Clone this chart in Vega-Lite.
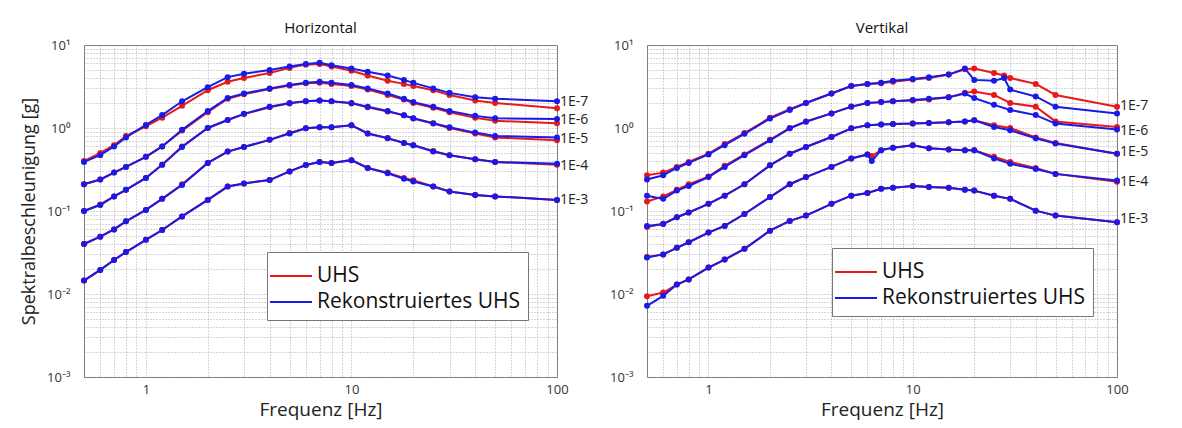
{
"$schema": "https://vega.github.io/schema/vega-lite/v6.json",
"background": "white",
"padding": {"left": 20, "top": 20, "right": 5, "bottom": 0},
"spacing": 20,
"config": {
  "font": "Open Sans",
  "view": {"stroke": "#777", "strokeWidth": 1},
  "title": {"fontSize": 15, "fontWeight": "normal", "color": "#111", "offset": 3},
  "axis": {"domain": false, "ticks": false, "grid": true, "gridColor": "#999", "gridDash": [1, 2], "gridOpacity": 0.8,
           "labelColor": "#333", "labelFontSize": 13, "titleFontSize": 18, "titleFontWeight": "normal", "titleColor": "#222",
           "labelOverlap": false, "labelFlush": false}
},
"resolve": {"scale": {"color": "independent"}, "legend": {"color": "independent"}},
"datasets": {
"labels": [
{"p":"H","label":"1E-7","f":100,"v":2.05},{"p":"H","label":"1E-6","f":100,"v":1.25},{"p":"H","label":"1E-5","f":100,"v":0.74},{"p":"H","label":"1E-4","f":100,"v":0.35},{"p":"H","label":"1E-3","f":100,"v":0.136},
{"p":"V","label":"1E-7","f":100,"v":1.82},{"p":"V","label":"1E-6","f":100,"v":0.93},{"p":"V","label":"1E-5","f":100,"v":0.52},{"p":"V","label":"1E-4","f":100,"v":0.225},{"p":"V","label":"1E-3","f":100,"v":0.08}
],
"curves": [
{"p":"H","rp":"1E-7","f":0.5,"uhs":0.40,"rek":0.39},{"p":"H","rp":"1E-7","f":0.6,"uhs":0.50,"rek":0.47},{"p":"H","rp":"1E-7","f":0.7,"uhs":0.62,"rek":0.60},{"p":"H","rp":"1E-7","f":0.8,"uhs":0.80,"rek":0.77},{"p":"H","rp":"1E-7","f":1,"uhs":1.05,"rek":1.09},{"p":"H","rp":"1E-7","f":1.2,"uhs":1.33,"rek":1.43},{"p":"H","rp":"1E-7","f":1.5,"uhs":1.85,"rek":2.1},{"p":"H","rp":"1E-7","f":2,"uhs":2.85,"rek":3.1},{"p":"H","rp":"1E-7","f":2.5,"uhs":3.6,"rek":4.1},{"p":"H","rp":"1E-7","f":3,"uhs":4.0,"rek":4.5},{"p":"H","rp":"1E-7","f":4,"uhs":4.6,"rek":5.0},{"p":"H","rp":"1E-7","f":5,"uhs":5.3,"rek":5.5},{"p":"H","rp":"1E-7","f":6,"uhs":5.8,"rek":5.9},{"p":"H","rp":"1E-7","f":7,"uhs":5.9,"rek":6.1},{"p":"H","rp":"1E-7","f":8,"uhs":5.5,"rek":5.7},{"p":"H","rp":"1E-7","f":10,"uhs":4.9,"rek":5.2},{"p":"H","rp":"1E-7","f":12,"uhs":4.3,"rek":4.75},{"p":"H","rp":"1E-7","f":15,"uhs":3.7,"rek":4.3},{"p":"H","rp":"1E-7","f":18,"uhs":3.4,"rek":3.8},{"p":"H","rp":"1E-7","f":20,"uhs":3.2,"rek":3.5},{"p":"H","rp":"1E-7","f":25,"uhs":2.85,"rek":3.0},{"p":"H","rp":"1E-7","f":30,"uhs":2.5,"rek":2.65},{"p":"H","rp":"1E-7","f":40,"uhs":2.15,"rek":2.35},{"p":"H","rp":"1E-7","f":50,"uhs":2.0,"rek":2.25},{"p":"H","rp":"1E-7","f":100,"uhs":1.73,"rek":2.1},
{"p":"H","rp":"1E-6","f":0.5,"uhs":0.21,"rek":0.21},{"p":"H","rp":"1E-6","f":0.6,"uhs":0.24,"rek":0.24},{"p":"H","rp":"1E-6","f":0.7,"uhs":0.29,"rek":0.29},{"p":"H","rp":"1E-6","f":0.8,"uhs":0.34,"rek":0.34},{"p":"H","rp":"1E-6","f":1,"uhs":0.45,"rek":0.45},{"p":"H","rp":"1E-6","f":1.2,"uhs":0.60,"rek":0.60},{"p":"H","rp":"1E-6","f":1.5,"uhs":0.93,"rek":0.95},{"p":"H","rp":"1E-6","f":2,"uhs":1.55,"rek":1.6},{"p":"H","rp":"1E-6","f":2.5,"uhs":2.25,"rek":2.3},{"p":"H","rp":"1E-6","f":3,"uhs":2.55,"rek":2.6},{"p":"H","rp":"1E-6","f":4,"uhs":2.95,"rek":3.0},{"p":"H","rp":"1E-6","f":5,"uhs":3.25,"rek":3.3},{"p":"H","rp":"1E-6","f":6,"uhs":3.45,"rek":3.5},{"p":"H","rp":"1E-6","f":7,"uhs":3.5,"rek":3.6},{"p":"H","rp":"1E-6","f":8,"uhs":3.4,"rek":3.5},{"p":"H","rp":"1E-6","f":10,"uhs":3.2,"rek":3.3},{"p":"H","rp":"1E-6","f":12,"uhs":2.9,"rek":3.0},{"p":"H","rp":"1E-6","f":15,"uhs":2.5,"rek":2.6},{"p":"H","rp":"1E-6","f":18,"uhs":2.2,"rek":2.25},{"p":"H","rp":"1E-6","f":20,"uhs":2.0,"rek":2.05},{"p":"H","rp":"1E-6","f":25,"uhs":1.75,"rek":1.8},{"p":"H","rp":"1E-6","f":30,"uhs":1.55,"rek":1.6},{"p":"H","rp":"1E-6","f":40,"uhs":1.33,"rek":1.4},{"p":"H","rp":"1E-6","f":50,"uhs":1.22,"rek":1.31},{"p":"H","rp":"1E-6","f":100,"uhs":1.14,"rek":1.28},
{"p":"H","rp":"1E-5","f":0.5,"uhs":0.10,"rek":0.10},{"p":"H","rp":"1E-5","f":0.6,"uhs":0.12,"rek":0.118},{"p":"H","rp":"1E-5","f":0.7,"uhs":0.15,"rek":0.15},{"p":"H","rp":"1E-5","f":0.8,"uhs":0.18,"rek":0.18},{"p":"H","rp":"1E-5","f":1,"uhs":0.25,"rek":0.25},{"p":"H","rp":"1E-5","f":1.2,"uhs":0.36,"rek":0.36},{"p":"H","rp":"1E-5","f":1.5,"uhs":0.6,"rek":0.59},{"p":"H","rp":"1E-5","f":2,"uhs":1.0,"rek":1.0},{"p":"H","rp":"1E-5","f":2.5,"uhs":1.25,"rek":1.25},{"p":"H","rp":"1E-5","f":3,"uhs":1.47,"rek":1.48},{"p":"H","rp":"1E-5","f":4,"uhs":1.78,"rek":1.8},{"p":"H","rp":"1E-5","f":5,"uhs":1.98,"rek":2.0},{"p":"H","rp":"1E-5","f":6,"uhs":2.1,"rek":2.1},{"p":"H","rp":"1E-5","f":7,"uhs":2.15,"rek":2.15},{"p":"H","rp":"1E-5","f":8,"uhs":2.1,"rek":2.1},{"p":"H","rp":"1E-5","f":10,"uhs":1.98,"rek":2.0},{"p":"H","rp":"1E-5","f":12,"uhs":1.78,"rek":1.8},{"p":"H","rp":"1E-5","f":15,"uhs":1.58,"rek":1.6},{"p":"H","rp":"1E-5","f":18,"uhs":1.42,"rek":1.42},{"p":"H","rp":"1E-5","f":20,"uhs":1.3,"rek":1.31},{"p":"H","rp":"1E-5","f":25,"uhs":1.13,"rek":1.14},{"p":"H","rp":"1E-5","f":30,"uhs":1.0,"rek":1.02},{"p":"H","rp":"1E-5","f":40,"uhs":0.86,"rek":0.88},{"p":"H","rp":"1E-5","f":50,"uhs":0.77,"rek":0.80},{"p":"H","rp":"1E-5","f":100,"uhs":0.71,"rek":0.77},
{"p":"H","rp":"1E-4","f":0.5,"uhs":0.040,"rek":0.040},{"p":"H","rp":"1E-4","f":0.6,"uhs":0.049,"rek":0.049},{"p":"H","rp":"1E-4","f":0.7,"uhs":0.060,"rek":0.060},{"p":"H","rp":"1E-4","f":0.8,"uhs":0.075,"rek":0.075},{"p":"H","rp":"1E-4","f":1,"uhs":0.103,"rek":0.103},{"p":"H","rp":"1E-4","f":1.2,"uhs":0.14,"rek":0.14},{"p":"H","rp":"1E-4","f":1.5,"uhs":0.21,"rek":0.206},{"p":"H","rp":"1E-4","f":2,"uhs":0.38,"rek":0.38},{"p":"H","rp":"1E-4","f":2.5,"uhs":0.52,"rek":0.52},{"p":"H","rp":"1E-4","f":3,"uhs":0.59,"rek":0.59},{"p":"H","rp":"1E-4","f":4,"uhs":0.72,"rek":0.72},{"p":"H","rp":"1E-4","f":5,"uhs":0.87,"rek":0.86},{"p":"H","rp":"1E-4","f":6,"uhs":0.99,"rek":0.99},{"p":"H","rp":"1E-4","f":7,"uhs":1.02,"rek":1.02},{"p":"H","rp":"1E-4","f":8,"uhs":1.02,"rek":1.02},{"p":"H","rp":"1E-4","f":10,"uhs":1.08,"rek":1.08},{"p":"H","rp":"1E-4","f":12,"uhs":0.86,"rek":0.86},{"p":"H","rp":"1E-4","f":15,"uhs":0.76,"rek":0.75},{"p":"H","rp":"1E-4","f":18,"uhs":0.66,"rek":0.66},{"p":"H","rp":"1E-4","f":20,"uhs":0.62,"rek":0.62},{"p":"H","rp":"1E-4","f":25,"uhs":0.53,"rek":0.52},{"p":"H","rp":"1E-4","f":30,"uhs":0.47,"rek":0.47},{"p":"H","rp":"1E-4","f":40,"uhs":0.42,"rek":0.42},{"p":"H","rp":"1E-4","f":50,"uhs":0.39,"rek":0.39},{"p":"H","rp":"1E-4","f":100,"uhs":0.36,"rek":0.37},
{"p":"H","rp":"1E-3","f":0.5,"uhs":0.0145,"rek":0.0145},{"p":"H","rp":"1E-3","f":0.6,"uhs":0.0195,"rek":0.0195},{"p":"H","rp":"1E-3","f":0.7,"uhs":0.0257,"rek":0.0257},{"p":"H","rp":"1E-3","f":0.8,"uhs":0.032,"rek":0.032},{"p":"H","rp":"1E-3","f":1,"uhs":0.045,"rek":0.045},{"p":"H","rp":"1E-3","f":1.2,"uhs":0.059,"rek":0.059},{"p":"H","rp":"1E-3","f":1.5,"uhs":0.086,"rek":0.086},{"p":"H","rp":"1E-3","f":2,"uhs":0.136,"rek":0.136},{"p":"H","rp":"1E-3","f":2.5,"uhs":0.197,"rek":0.197},{"p":"H","rp":"1E-3","f":3,"uhs":0.215,"rek":0.215},{"p":"H","rp":"1E-3","f":4,"uhs":0.236,"rek":0.236},{"p":"H","rp":"1E-3","f":5,"uhs":0.30,"rek":0.30},{"p":"H","rp":"1E-3","f":6,"uhs":0.358,"rek":0.358},{"p":"H","rp":"1E-3","f":7,"uhs":0.39,"rek":0.39},{"p":"H","rp":"1E-3","f":8,"uhs":0.38,"rek":0.38},{"p":"H","rp":"1E-3","f":10,"uhs":0.41,"rek":0.41},{"p":"H","rp":"1E-3","f":12,"uhs":0.33,"rek":0.33},{"p":"H","rp":"1E-3","f":15,"uhs":0.29,"rek":0.285},{"p":"H","rp":"1E-3","f":18,"uhs":0.25,"rek":0.245},{"p":"H","rp":"1E-3","f":20,"uhs":0.235,"rek":0.227},{"p":"H","rp":"1E-3","f":25,"uhs":0.197,"rek":0.197},{"p":"H","rp":"1E-3","f":30,"uhs":0.172,"rek":0.172},{"p":"H","rp":"1E-3","f":40,"uhs":0.156,"rek":0.156},{"p":"H","rp":"1E-3","f":50,"uhs":0.15,"rek":0.15},{"p":"H","rp":"1E-3","f":100,"uhs":0.136,"rek":0.136},
{"p":"V","rp":"1E-7","f":0.5,"uhs":0.27,"rek":0.24},{"p":"V","rp":"1E-7","f":0.6,"uhs":0.29,"rek":0.27},{"p":"V","rp":"1E-7","f":0.7,"uhs":0.34,"rek":0.33},{"p":"V","rp":"1E-7","f":0.8,"uhs":0.39,"rek":0.38},{"p":"V","rp":"1E-7","f":1,"uhs":0.49,"rek":0.48},{"p":"V","rp":"1E-7","f":1.2,"uhs":0.64,"rek":0.62},{"p":"V","rp":"1E-7","f":1.5,"uhs":0.87,"rek":0.85},{"p":"V","rp":"1E-7","f":2,"uhs":1.33,"rek":1.3},{"p":"V","rp":"1E-7","f":2.5,"uhs":1.68,"rek":1.65},{"p":"V","rp":"1E-7","f":3,"uhs":2.0,"rek":2.0},{"p":"V","rp":"1E-7","f":4,"uhs":2.6,"rek":2.6},{"p":"V","rp":"1E-7","f":5,"uhs":3.2,"rek":3.2},{"p":"V","rp":"1E-7","f":6,"uhs":3.4,"rek":3.4},{"p":"V","rp":"1E-7","f":7,"uhs":3.45,"rek":3.5},{"p":"V","rp":"1E-7","f":8,"uhs":3.6,"rek":3.7},{"p":"V","rp":"1E-7","f":10,"uhs":3.85,"rek":3.9},{"p":"V","rp":"1E-7","f":12,"uhs":4.0,"rek":4.1},{"p":"V","rp":"1E-7","f":15,"uhs":4.4,"rek":4.4},{"p":"V","rp":"1E-7","f":18,"uhs":5.1,"rek":5.2},{"p":"V","rp":"1E-7","f":20,"uhs":5.2,"rek":3.8},{"p":"V","rp":"1E-7","f":25,"uhs":4.6,"rek":3.7},{"p":"V","rp":"1E-7","f":28,"uhs":4.3,"rek":4.0},{"p":"V","rp":"1E-7","f":30,"uhs":4.0,"rek":2.9},{"p":"V","rp":"1E-7","f":40,"uhs":3.4,"rek":2.4},{"p":"V","rp":"1E-7","f":50,"uhs":2.5,"rek":1.8},{"p":"V","rp":"1E-7","f":100,"uhs":1.8,"rek":1.5},
{"p":"V","rp":"1E-6","f":0.5,"uhs":0.13,"rek":0.153},{"p":"V","rp":"1E-6","f":0.6,"uhs":0.15,"rek":0.14},{"p":"V","rp":"1E-6","f":0.7,"uhs":0.18,"rek":0.176},{"p":"V","rp":"1E-6","f":0.8,"uhs":0.21,"rek":0.20},{"p":"V","rp":"1E-6","f":1,"uhs":0.26,"rek":0.256},{"p":"V","rp":"1E-6","f":1.2,"uhs":0.35,"rek":0.34},{"p":"V","rp":"1E-6","f":1.5,"uhs":0.48,"rek":0.47},{"p":"V","rp":"1E-6","f":2,"uhs":0.72,"rek":0.71},{"p":"V","rp":"1E-6","f":2.5,"uhs":1.0,"rek":0.99},{"p":"V","rp":"1E-6","f":3,"uhs":1.2,"rek":1.19},{"p":"V","rp":"1E-6","f":4,"uhs":1.5,"rek":1.5},{"p":"V","rp":"1E-6","f":5,"uhs":1.8,"rek":1.81},{"p":"V","rp":"1E-6","f":6,"uhs":2.0,"rek":2.0},{"p":"V","rp":"1E-6","f":7,"uhs":2.05,"rek":2.05},{"p":"V","rp":"1E-6","f":8,"uhs":2.1,"rek":2.1},{"p":"V","rp":"1E-6","f":10,"uhs":2.15,"rek":2.17},{"p":"V","rp":"1E-6","f":12,"uhs":2.2,"rek":2.25},{"p":"V","rp":"1E-6","f":15,"uhs":2.35,"rek":2.34},{"p":"V","rp":"1E-6","f":18,"uhs":2.65,"rek":2.6},{"p":"V","rp":"1E-6","f":20,"uhs":2.75,"rek":2.3},{"p":"V","rp":"1E-6","f":25,"uhs":2.5,"rek":1.9},{"p":"V","rp":"1E-6","f":30,"uhs":2.0,"rek":1.65},{"p":"V","rp":"1E-6","f":40,"uhs":1.8,"rek":1.43},{"p":"V","rp":"1E-6","f":50,"uhs":1.2,"rek":1.13},{"p":"V","rp":"1E-6","f":100,"uhs":1.03,"rek":0.96},
{"p":"V","rp":"1E-5","f":0.5,"uhs":0.064,"rek":0.066},{"p":"V","rp":"1E-5","f":0.6,"uhs":0.07,"rek":0.0695},{"p":"V","rp":"1E-5","f":0.7,"uhs":0.084,"rek":0.084},{"p":"V","rp":"1E-5","f":0.8,"uhs":0.096,"rek":0.096},{"p":"V","rp":"1E-5","f":1,"uhs":0.122,"rek":0.122},{"p":"V","rp":"1E-5","f":1.2,"uhs":0.153,"rek":0.153},{"p":"V","rp":"1E-5","f":1.5,"uhs":0.21,"rek":0.21},{"p":"V","rp":"1E-5","f":2,"uhs":0.355,"rek":0.355},{"p":"V","rp":"1E-5","f":2.5,"uhs":0.49,"rek":0.49},{"p":"V","rp":"1E-5","f":3,"uhs":0.59,"rek":0.59},{"p":"V","rp":"1E-5","f":4,"uhs":0.78,"rek":0.78},{"p":"V","rp":"1E-5","f":5,"uhs":0.99,"rek":0.99},{"p":"V","rp":"1E-5","f":6,"uhs":1.08,"rek":1.08},{"p":"V","rp":"1E-5","f":7,"uhs":1.1,"rek":1.1},{"p":"V","rp":"1E-5","f":8,"uhs":1.12,"rek":1.12},{"p":"V","rp":"1E-5","f":10,"uhs":1.13,"rek":1.13},{"p":"V","rp":"1E-5","f":12,"uhs":1.15,"rek":1.15},{"p":"V","rp":"1E-5","f":15,"uhs":1.17,"rek":1.17},{"p":"V","rp":"1E-5","f":18,"uhs":1.2,"rek":1.2},{"p":"V","rp":"1E-5","f":20,"uhs":1.24,"rek":1.24},{"p":"V","rp":"1E-5","f":25,"uhs":1.08,"rek":1.03},{"p":"V","rp":"1E-5","f":30,"uhs":1.0,"rek":0.94},{"p":"V","rp":"1E-5","f":40,"uhs":0.77,"rek":0.75},{"p":"V","rp":"1E-5","f":50,"uhs":0.66,"rek":0.65},{"p":"V","rp":"1E-5","f":100,"uhs":0.49,"rek":0.49},
{"p":"V","rp":"1E-4","f":0.5,"uhs":0.028,"rek":0.0275},{"p":"V","rp":"1E-4","f":0.6,"uhs":0.030,"rek":0.030},{"p":"V","rp":"1E-4","f":0.7,"uhs":0.036,"rek":0.036},{"p":"V","rp":"1E-4","f":0.8,"uhs":0.042,"rek":0.042},{"p":"V","rp":"1E-4","f":1,"uhs":0.055,"rek":0.055},{"p":"V","rp":"1E-4","f":1.2,"uhs":0.066,"rek":0.066},{"p":"V","rp":"1E-4","f":1.5,"uhs":0.092,"rek":0.092},{"p":"V","rp":"1E-4","f":2,"uhs":0.147,"rek":0.147},{"p":"V","rp":"1E-4","f":2.5,"uhs":0.21,"rek":0.21},{"p":"V","rp":"1E-4","f":3,"uhs":0.256,"rek":0.256},{"p":"V","rp":"1E-4","f":4,"uhs":0.34,"rek":0.34},{"p":"V","rp":"1E-4","f":5,"uhs":0.43,"rek":0.43},{"p":"V","rp":"1E-4","f":6,"uhs":0.48,"rek":0.48},{"p":"V","rp":"1E-4","f":6.3,"uhs":0.46,"rek":0.40},{"p":"V","rp":"1E-4","f":7,"uhs":0.54,"rek":0.54},{"p":"V","rp":"1E-4","f":8,"uhs":0.58,"rek":0.58},{"p":"V","rp":"1E-4","f":10,"uhs":0.62,"rek":0.62},{"p":"V","rp":"1E-4","f":12,"uhs":0.57,"rek":0.57},{"p":"V","rp":"1E-4","f":15,"uhs":0.55,"rek":0.55},{"p":"V","rp":"1E-4","f":18,"uhs":0.54,"rek":0.54},{"p":"V","rp":"1E-4","f":20,"uhs":0.54,"rek":0.54},{"p":"V","rp":"1E-4","f":25,"uhs":0.45,"rek":0.43},{"p":"V","rp":"1E-4","f":30,"uhs":0.39,"rek":0.37},{"p":"V","rp":"1E-4","f":40,"uhs":0.33,"rek":0.32},{"p":"V","rp":"1E-4","f":50,"uhs":0.28,"rek":0.28},{"p":"V","rp":"1E-4","f":100,"uhs":0.225,"rek":0.233},
{"p":"V","rp":"1E-3","f":0.5,"uhs":0.0094,"rek":0.0072},{"p":"V","rp":"1E-3","f":0.6,"uhs":0.0104,"rek":0.0095},{"p":"V","rp":"1E-3","f":0.7,"uhs":0.013,"rek":0.013},{"p":"V","rp":"1E-3","f":0.8,"uhs":0.015,"rek":0.015},{"p":"V","rp":"1E-3","f":1,"uhs":0.0208,"rek":0.0208},{"p":"V","rp":"1E-3","f":1.2,"uhs":0.026,"rek":0.026},{"p":"V","rp":"1E-3","f":1.5,"uhs":0.035,"rek":0.035},{"p":"V","rp":"1E-3","f":2,"uhs":0.058,"rek":0.058},{"p":"V","rp":"1E-3","f":2.5,"uhs":0.076,"rek":0.076},{"p":"V","rp":"1E-3","f":3,"uhs":0.088,"rek":0.088},{"p":"V","rp":"1E-3","f":4,"uhs":0.122,"rek":0.122},{"p":"V","rp":"1E-3","f":5,"uhs":0.153,"rek":0.153},{"p":"V","rp":"1E-3","f":6,"uhs":0.165,"rek":0.165},{"p":"V","rp":"1E-3","f":7,"uhs":0.185,"rek":0.185},{"p":"V","rp":"1E-3","f":8,"uhs":0.19,"rek":0.19},{"p":"V","rp":"1E-3","f":10,"uhs":0.20,"rek":0.20},{"p":"V","rp":"1E-3","f":12,"uhs":0.195,"rek":0.195},{"p":"V","rp":"1E-3","f":15,"uhs":0.19,"rek":0.19},{"p":"V","rp":"1E-3","f":18,"uhs":0.18,"rek":0.18},{"p":"V","rp":"1E-3","f":20,"uhs":0.176,"rek":0.176},{"p":"V","rp":"1E-3","f":25,"uhs":0.153,"rek":0.153},{"p":"V","rp":"1E-3","f":30,"uhs":0.14,"rek":0.14},{"p":"V","rp":"1E-3","f":40,"uhs":0.101,"rek":0.101},{"p":"V","rp":"1E-3","f":50,"uhs":0.088,"rek":0.088},{"p":"V","rp":"1E-3","f":100,"uhs":0.073,"rek":0.073}
]
},
"hconcat": [
{
  "title": "Horizontal",
  "width": 473, "height": 332,
  "layer": [
    {"data": {"name": "curves"},
     "transform": [{"filter": "datum.p == 'H'"}, {"fold": ["uhs", "rek"], "as": ["series", "v"]}, {"filter": "datum.series == 'uhs'"}],
     "mark": {"type": "line", "strokeWidth": 2, "point": {"filled": true, "size": 36}},
     "encoding": {
       "x": {"field": "f", "type": "quantitative", "scale": {"type": "log", "domain": [0.5, 100], "nice": false},
             "axis": {"title": "Frequenz [Hz]", "titleFontSize": 19, "values": [0.5,0.6,0.7,0.8,0.9,1,2,3,4,5,6,7,8,9,10,20,30,40,50,60,70,80,90,100],
                      "labelExpr": "datum.value == 1 ? '1' : datum.value == 10 ? '10' : datum.value == 100 ? '100' : ''", "labelPadding": 6, "titlePadding": 4}},
       "y": {"field": "v", "type": "quantitative", "scale": {"type": "log", "domain": [0.001, 10], "nice": false},
             "axis": {"title": "Spektralbeschleunigung [g]", "values": [0.001,0.002,0.003,0.004,0.005,0.006,0.007,0.008,0.009,0.01,0.02,0.03,0.04,0.05,0.06,0.07,0.08,0.09,0.1,0.2,0.3,0.4,0.5,0.6,0.7,0.8,0.9,1,2,3,4,5,6,7,8,9,10],
                      "labelExpr": "datum.value == 10 ? '10¹' : datum.value == 1 ? '10⁰' : datum.value == 0.1 ? '10⁻¹' : datum.value == 0.01 ? '10⁻²' : datum.value == 0.001 ? '10⁻³' : ''", "labelPadding": 14, "titlePadding": 8}},
       "color": {"field": "series", "type": "nominal", "scale": {"domain": ["uhs", "rek"], "range": ["#e8191a", "#1a1ae6"]},
                 "legend": {"title": null, "orient": "none", "legendX": 183, "legendY": 207, "symbolType": "M-1.4,0H1.4", "symbolSize": 900, "symbolStrokeWidth": 2,
                            "labelFontSize": 21, "labelColor": "#111", "labelLimit": 400, "labelExpr": "datum.value == 'uhs' ? 'UHS' : 'Rekonstruiertes UHS'",
                            "fillColor": "white", "strokeColor": "#777", "padding": 8, "rowPadding": 0, "labelOffset": 10, "offset": 0}},
       "detail": {"field": "rp"},
       "order": {"field": "f"}
     }},
    {"data": {"name": "curves"},
     "transform": [{"filter": "datum.p == 'H'"}, {"fold": ["uhs", "rek"], "as": ["series", "v"]}, {"filter": "datum.series == 'rek'"}],
     "mark": {"type": "line", "strokeWidth": 2, "point": {"filled": true, "size": 36}},
     "encoding": {
       "x": {"field": "f", "type": "quantitative"},
       "y": {"field": "v", "type": "quantitative"},
       "color": {"field": "series", "type": "nominal"},
       "detail": {"field": "rp"},
       "order": {"field": "f"}
     }},
    {"data": {"name": "labels"},
     "transform": [{"filter": "datum.p == 'H'"}],
     "mark": {"type": "text", "align": "left", "dx": 3, "fontSize": 14, "color": "#222"},
     "encoding": {
       "x": {"field": "f", "type": "quantitative"},
       "y": {"field": "v", "type": "quantitative"},
       "text": {"field": "label"}
     }}
  ]
},
{
  "title": "Vertikal",
  "width": 470, "height": 332,
  "layer": [
    {"data": {"name": "curves"},
     "transform": [{"filter": "datum.p == 'V'"}, {"fold": ["uhs", "rek"], "as": ["series", "v"]}, {"filter": "datum.series == 'uhs'"}],
     "mark": {"type": "line", "strokeWidth": 2, "point": {"filled": true, "size": 36}},
     "encoding": {
       "x": {"field": "f", "type": "quantitative", "scale": {"type": "log", "domain": [0.5, 100], "nice": false},
             "axis": {"title": "Frequenz [Hz]", "titleFontSize": 19, "values": [0.5,0.6,0.7,0.8,0.9,1,2,3,4,5,6,7,8,9,10,20,30,40,50,60,70,80,90,100],
                      "labelExpr": "datum.value == 1 ? '1' : datum.value == 10 ? '10' : datum.value == 100 ? '100' : ''", "labelPadding": 6, "titlePadding": 4}},
       "y": {"field": "v", "type": "quantitative", "scale": {"type": "log", "domain": [0.001, 10], "nice": false},
             "axis": {"title": null, "values": [0.001,0.002,0.003,0.004,0.005,0.006,0.007,0.008,0.009,0.01,0.02,0.03,0.04,0.05,0.06,0.07,0.08,0.09,0.1,0.2,0.3,0.4,0.5,0.6,0.7,0.8,0.9,1,2,3,4,5,6,7,8,9,10],
                      "labelExpr": "datum.value == 10 ? '10¹' : datum.value == 1 ? '10⁰' : datum.value == 0.1 ? '10⁻¹' : datum.value == 0.01 ? '10⁻²' : datum.value == 0.001 ? '10⁻³' : ''", "labelPadding": 14}},
       "color": {"field": "series", "type": "nominal", "scale": {"domain": ["uhs", "rek"], "range": ["#e8191a", "#1a1ae6"]},
                 "legend": {"title": null, "orient": "none", "legendX": 185, "legendY": 203, "symbolType": "M-1.4,0H1.4", "symbolSize": 900, "symbolStrokeWidth": 2,
                            "labelFontSize": 21, "labelColor": "#111", "labelLimit": 400, "labelExpr": "datum.value == 'uhs' ? 'UHS' : 'Rekonstruiertes UHS'",
                            "fillColor": "white", "strokeColor": "#777", "padding": 8, "rowPadding": 0, "labelOffset": 10, "offset": 0}},
       "detail": {"field": "rp"},
       "order": {"field": "f"}
     }},
    {"data": {"name": "curves"},
     "transform": [{"filter": "datum.p == 'V'"}, {"fold": ["uhs", "rek"], "as": ["series", "v"]}, {"filter": "datum.series == 'rek'"}],
     "mark": {"type": "line", "strokeWidth": 2, "point": {"filled": true, "size": 36}},
     "encoding": {
       "x": {"field": "f", "type": "quantitative"},
       "y": {"field": "v", "type": "quantitative"},
       "color": {"field": "series", "type": "nominal"},
       "detail": {"field": "rp"},
       "order": {"field": "f"}
     }},
    {"data": {"name": "labels"},
     "transform": [{"filter": "datum.p == 'V'"}],
     "mark": {"type": "text", "align": "left", "dx": 3, "fontSize": 14, "color": "#222"},
     "encoding": {
       "x": {"field": "f", "type": "quantitative"},
       "y": {"field": "v", "type": "quantitative"},
       "text": {"field": "label"}
     }}
  ]
}
]
}
